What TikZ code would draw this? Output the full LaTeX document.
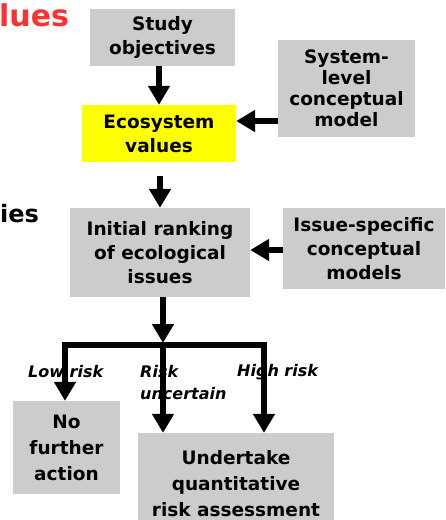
\documentclass[tikz,border=0pt]{standalone}
\usepackage{fontspec}
\setmainfont{DejaVu Sans}
\usetikzlibrary{arrows.meta}
\definecolor{boxgray}{HTML}{CCCCCC}
\definecolor{boxyellow}{HTML}{FFFF00}
\definecolor{titlered}{HTML}{FF3030}
\begin{document}
\begin{tikzpicture}[x=1pt,y=-1pt,
  box/.style={fill=boxgray, draw=none, inner sep=0pt, align=center, text=black,
    font=\bfseries\fontsize{18.5}{24}\selectfont},
  arr/.style={line width=5.5pt, -{Triangle[width=21pt,length=19pt]}},
  lab/.style={font=\bfseries\itshape\fontsize{16}{22}\selectfont, inner sep=0pt, anchor=west},
  bigtxt/.style={font=\bfseries\fontsize{30}{32}\selectfont, inner sep=0pt, anchor=west}]
\useasboundingbox (0,0) rectangle (445,520);

% remnants of slide text
\node[bigtxt, text=titlered] (title) at (-1,15) {lues};
\node[bigtxt, font=\bfseries\fontsize{24}{26}\selectfont] (ies) at (0,214) {ies};

% boxes
\node[box, minimum width=145pt, minimum height=57pt] (study) at (162.5,37.5) {Study\\objectives};
\node[box, minimum width=137pt, minimum height=97pt,
  font=\bfseries\fontsize{18.5}{21}\selectfont] (sys) at (346.5,88.5) {System-\\level\\conceptual\\model};
\node[box, fill=boxyellow, minimum width=154pt, minimum height=57pt] (eco) at (159,133.5) {Ecosystem\\values};
\node[box, minimum width=180pt, minimum height=89pt] (init) at (160,252.5) {Initial ranking\\of ecological\\issues};
\node[box, minimum width=162pt, minimum height=81pt] (issue) at (364,248.5) {Issue-specific\\conceptual\\models};
\node[box, minimum width=107pt, minimum height=93pt,
  font=\bfseries\fontsize{18.5}{26}\selectfont] (nofurther) at (66.5,447.5) {No\\further\\action};
\node[box, minimum width=196pt, minimum height=102pt,
  font=\bfseries\fontsize{18.5}{26}\selectfont] (undertake) at (236,484) {Undertake\\quantitative\\risk assessment};

% helper coordinates
\coordinate (ysys) at (0,121);
\coordinate (yiss) at (0,250);
\coordinate (junc) at (163,345);
\coordinate (bl) at (65,345);
\coordinate (br) at (264,345);

% connectors
\draw[arr] (eco.north |- study.south) -- (eco.north);
\draw[arr] (sys.west |- ysys) -- (eco.east |- ysys);
\draw[arr, shorten <=14pt] (init.north |- eco.south) -- (init.north);
\draw[arr] (issue.west |- yiss) -- (init.east |- yiss);
\draw[arr, shorten >=2pt] (init.south -| junc) -- (junc);
\draw[arr] (junc) -| (bl |- nofurther.north);
\draw[arr] (junc) -| (br |- undertake.north);
\draw[arr] (junc) -- (junc |- undertake.north);

% labels
\node[lab] (low) at (28,372) {Low risk};
\node[lab] (risk) at (140,372) {Risk};
\node[lab] (uncert) at (140,394) {uncertain};
\node[lab] (high) at (237,372) {High risk};
\end{tikzpicture}
\end{document}
